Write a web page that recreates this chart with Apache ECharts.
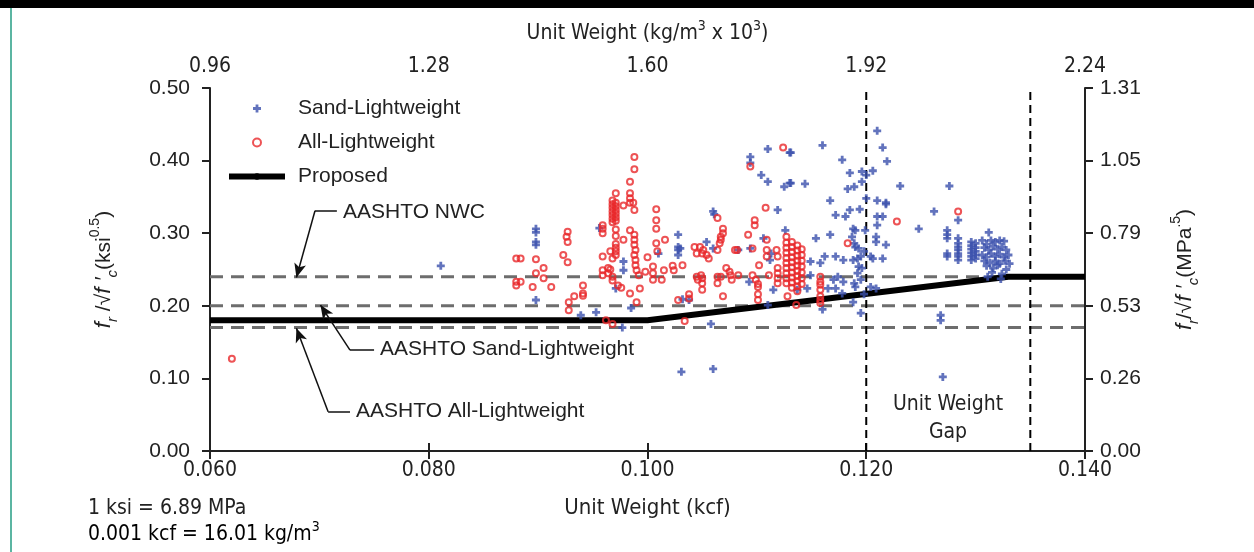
<!DOCTYPE html>
<html>
<head>
<meta charset="utf-8">
<title>Modulus of rupture vs unit weight</title>
<script src="https://cdn.jsdelivr.net/npm/echarts@6/dist/echarts.min.js"></script>
<style>
html, body { margin: 0; padding: 0; background: #fff; }
#main { width: 1254px; height: 552px; }
</style>
</head>
<body>
<div id="main"></div>
<script>
// 砂轻混凝土 (unit weight kcf, fr/sqrt(f'c) ksi^0.5)
const sandLightweight = [
  [0.0811, 0.255],
  [0.0898, 0.306], [0.0898, 0.301], [0.0898, 0.288], [0.0898, 0.284], [0.0898, 0.208],
  [0.0939, 0.187], [0.0953, 0.191], [0.0956, 0.307], [0.0971, 0.224],
  [0.0978, 0.261], [0.0978, 0.249], [0.0985, 0.197], [0.0977, 0.170],
  [0.1028, 0.298], [0.1028, 0.281], [0.1028, 0.277], [0.1028, 0.270], [0.1030, 0.279], [0.1010, 0.272],
  [0.1032, 0.209], [0.1038, 0.208],
  [0.1058, 0.175], [0.1060, 0.330], [0.1061, 0.326], [0.1054, 0.288], [0.1060, 0.279],
  [0.1094, 0.405], [0.1094, 0.397], [0.1110, 0.416], [0.1130, 0.411], [0.1104, 0.380], [0.1110, 0.371],
  [0.1125, 0.364], [0.1130, 0.369], [0.1119, 0.332], [0.1083, 0.277], [0.1094, 0.279], [0.1106, 0.293],
  [0.1113, 0.272], [0.1112, 0.263], [0.1126, 0.304], [0.1115, 0.222], [0.1110, 0.201], [0.1093, 0.233],
  [0.1031, 0.109], [0.1060, 0.113],
  [0.1210, 0.441], [0.1160, 0.421], [0.1215, 0.418], [0.1219, 0.399], [0.1178, 0.401], [0.1185, 0.383],
  [0.1196, 0.385], [0.1200, 0.380], [0.1206, 0.386], [0.1131, 0.411], [0.1131, 0.369], [0.1144, 0.368],
  [0.1183, 0.361], [0.1189, 0.364], [0.1196, 0.371], [0.1167, 0.345], [0.1200, 0.348], [0.1210, 0.345],
  [0.1218, 0.342], [0.1172, 0.325], [0.1181, 0.323], [0.1185, 0.332], [0.1194, 0.333], [0.1210, 0.323],
  [0.1215, 0.323], [0.1210, 0.311], [0.1188, 0.306], [0.1190, 0.304], [0.1199, 0.304], [0.1167, 0.298],
  [0.1154, 0.293], [0.1209, 0.295], [0.1209, 0.288], [0.1187, 0.295], [0.1189, 0.286], [0.1190, 0.281],
  [0.1193, 0.279], [0.1218, 0.284], [0.1195, 0.268], [0.1198, 0.275], [0.1162, 0.268], [0.1172, 0.268],
  [0.1179, 0.263], [0.1188, 0.263], [0.1192, 0.265], [0.1204, 0.268], [0.1206, 0.265], [0.1215, 0.265],
  [0.1149, 0.261], [0.1158, 0.259], [0.1193, 0.254], [0.1196, 0.252], [0.1192, 0.245], [0.1149, 0.242],
  [0.1170, 0.236], [0.1174, 0.240], [0.1179, 0.233], [0.1189, 0.231], [0.1195, 0.236], [0.1146, 0.224],
  [0.1137, 0.222], [0.1165, 0.224], [0.1172, 0.224], [0.1190, 0.226], [0.1204, 0.226], [0.1209, 0.224],
  [0.1178, 0.217], [0.1198, 0.216], [0.1160, 0.195], [0.1188, 0.205], [0.1195, 0.190],
  [0.1231, 0.365], [0.1276, 0.365], [0.1218, 0.340], [0.1262, 0.330], [0.1248, 0.306], [0.1284, 0.318],
  [0.1274, 0.304], [0.1274, 0.298], [0.1274, 0.293], [0.1274, 0.272], [0.1274, 0.268],
  [0.1284, 0.293], [0.1284, 0.286], [0.1284, 0.281], [0.1284, 0.277], [0.1284, 0.272], [0.1284, 0.268], [0.1284, 0.263],
  [0.1296, 0.288], [0.1296, 0.283], [0.1296, 0.278], [0.1296, 0.273], [0.1296, 0.268], [0.1296, 0.263],
  [0.1300, 0.286], [0.1300, 0.280], [0.1300, 0.275], [0.1300, 0.270], [0.1300, 0.265],
  [0.1312, 0.301], [0.1306, 0.290], [0.1310, 0.285], [0.1314, 0.290], [0.1318, 0.288], [0.1322, 0.290],
  [0.1326, 0.289], [0.1308, 0.280], [0.1312, 0.277], [0.1316, 0.282], [0.1320, 0.278], [0.1324, 0.281],
  [0.1328, 0.277], [0.1306, 0.270], [0.1310, 0.267], [0.1314, 0.272], [0.1318, 0.268], [0.1322, 0.271],
  [0.1326, 0.267], [0.1330, 0.270], [0.1308, 0.262], [0.1313, 0.259], [0.1318, 0.262], [0.1322, 0.258],
  [0.1327, 0.262], [0.1331, 0.258], [0.1310, 0.255], [0.1316, 0.252], [0.1320, 0.256], [0.1328, 0.250],
  [0.1315, 0.246], [0.1311, 0.240], [0.1324, 0.244], [0.1323, 0.237],
  [0.1268, 0.187], [0.1268, 0.180], [0.1270, 0.102]
]

// 全轻混凝土
const allLightweight = [
  [0.0620, 0.127],
  [0.0880, 0.265], [0.0884, 0.265], [0.0880, 0.233], [0.0884, 0.233], [0.0880, 0.228],
  [0.0898, 0.264], [0.0905, 0.252], [0.0898, 0.245], [0.0905, 0.238], [0.0895, 0.226], [0.0912, 0.226],
  [0.0927, 0.302], [0.0926, 0.295], [0.0927, 0.288], [0.0923, 0.270], [0.0927, 0.260],
  [0.0941, 0.228], [0.0941, 0.217], [0.0941, 0.214], [0.0933, 0.213], [0.0928, 0.205], [0.0928, 0.194],
  [0.0959, 0.311], [0.0959, 0.306], [0.0959, 0.300], [0.0959, 0.268], [0.0959, 0.249], [0.0959, 0.242],
  [0.0964, 0.252], [0.0964, 0.245], [0.0966, 0.275], [0.0962, 0.180], [0.0968, 0.175],
  [0.0968, 0.345], [0.0968, 0.340], [0.0968, 0.335], [0.0968, 0.330], [0.0968, 0.325], [0.0968, 0.320],
  [0.0968, 0.315], [0.0971, 0.355], [0.0971, 0.342], [0.0971, 0.337], [0.0971, 0.332], [0.0971, 0.327],
  [0.0971, 0.322], [0.0971, 0.317], [0.0971, 0.305], [0.0971, 0.296], [0.0971, 0.285], [0.0971, 0.280],
  [0.0971, 0.275], [0.0971, 0.270], [0.0968, 0.265], [0.0966, 0.250], [0.0968, 0.240], [0.0968, 0.235],
  [0.0973, 0.228], [0.0976, 0.225],
  [0.0978, 0.291], [0.0978, 0.338],
  [0.0984, 0.371], [0.0984, 0.355], [0.0984, 0.348], [0.0984, 0.342], [0.0987, 0.342], [0.0988, 0.332], [0.0984, 0.304],
  [0.0988, 0.298], [0.0988, 0.291], [0.0988, 0.284], [0.0989, 0.277], [0.0988, 0.270], [0.0989, 0.263],
  [0.0989, 0.256], [0.0990, 0.249], [0.0992, 0.242],
  [0.0988, 0.405], [0.0988, 0.388],
  [0.0984, 0.217], [0.0990, 0.205], [0.0993, 0.224], [0.0998, 0.247], [0.1000, 0.267], [0.1005, 0.254],
  [0.1005, 0.245], [0.1005, 0.236],
  [0.1008, 0.333], [0.1008, 0.318], [0.1008, 0.306], [0.1008, 0.286], [0.1009, 0.275], [0.1016, 0.291],
  [0.1015, 0.249], [0.1013, 0.236],
  [0.1023, 0.255], [0.1024, 0.249], [0.1032, 0.256], [0.1028, 0.208], [0.1038, 0.216], [0.1038, 0.210], [0.1034, 0.179],
  [0.1043, 0.281], [0.1045, 0.272], [0.1045, 0.240], [0.1046, 0.236],
  [0.1048, 0.281], [0.1050, 0.272], [0.1051, 0.277], [0.1054, 0.270], [0.1056, 0.265], [0.1049, 0.242],
  [0.1050, 0.238], [0.1050, 0.231], [0.1050, 0.222],
  [0.1064, 0.321], [0.1069, 0.306], [0.1069, 0.300], [0.1067, 0.295], [0.1067, 0.291], [0.1066, 0.286],
  [0.1064, 0.277], [0.1072, 0.252], [0.1075, 0.247], [0.1064, 0.240], [0.1064, 0.231], [0.1067, 0.240],
  [0.1076, 0.242], [0.1077, 0.236], [0.1069, 0.213], [0.1080, 0.277], [0.1082, 0.277], [0.1083, 0.242],
  [0.1094, 0.392], [0.1092, 0.298], [0.1098, 0.318], [0.1098, 0.311], [0.1096, 0.279], [0.1096, 0.242],
  [0.1099, 0.236], [0.1101, 0.230], [0.1101, 0.226], [0.1101, 0.216], [0.1101, 0.208], [0.1102, 0.256],
  [0.1108, 0.335], [0.1109, 0.291], [0.1109, 0.277], [0.1109, 0.268], [0.1111, 0.242],
  [0.1124, 0.418], [0.1118, 0.277], [0.1119, 0.268], [0.1119, 0.252], [0.1119, 0.245], [0.1119, 0.238], [0.1119, 0.231],
  [0.1127, 0.295], [0.1127, 0.287], [0.1127, 0.280], [0.1127, 0.273], [0.1127, 0.266], [0.1127, 0.259],
  [0.1127, 0.252], [0.1127, 0.245], [0.1127, 0.238], [0.1127, 0.231], [0.1128, 0.213],
  [0.1132, 0.288], [0.1132, 0.281], [0.1132, 0.274], [0.1132, 0.267], [0.1132, 0.260], [0.1132, 0.253],
  [0.1132, 0.246], [0.1132, 0.239], [0.1132, 0.232], [0.1132, 0.225],
  [0.1137, 0.283], [0.1137, 0.276], [0.1137, 0.269], [0.1137, 0.262], [0.1137, 0.255], [0.1137, 0.248],
  [0.1137, 0.241], [0.1137, 0.234], [0.1137, 0.227], [0.1137, 0.220],
  [0.1141, 0.278], [0.1141, 0.270], [0.1141, 0.262], [0.1141, 0.254], [0.1141, 0.246], [0.1141, 0.238], [0.1141, 0.230],
  [0.1136, 0.201],
  [0.1158, 0.240], [0.1158, 0.233], [0.1158, 0.229], [0.1158, 0.222], [0.1158, 0.213], [0.1158, 0.208], [0.1158, 0.204],
  [0.1183, 0.286], [0.1228, 0.316], [0.1284, 0.330]
]

// 建议公式折线
const proposedX = [0.060, 0.100, 0.133, 0.140]
const proposedY = [0.18, 0.18, 0.24, 0.24]
// AASHTO 系数 (NWC, 砂轻, 全轻)
const aashtoLevels = [0.24, 0.20, 0.17]
// 容重缺口边界
const gapBounds = [0.120, 0.135]

const rightTickLabels = ['0.00', '0.26', '0.53', '0.79', '1.05', '1.31']

// 标注箭头: 水平段 + 斜段 (数据坐标)
const arrowNotes = [
  { elbow: [[0.0716, 0.331], [0.0696, 0.331]], tip: [0.0679, 0.239] },
  { elbow: [[0.0750, 0.139], [0.0728, 0.139]], tip: [0.0701, 0.201] },
  { elbow: [[0.0728, 0.054], [0.0708, 0.054]], tip: [0.0679, 0.169] }
]

const plusPath = 'path://M2.6,0H5.4V2.6H8V5.4H5.4V8H2.6V5.4H0V2.6H2.6Z'
const regular = 'Liberation Sans, Arial, sans-serif'
const narrow = 'Liberation Sans Narrow, Arial Narrow, DejaVu Sans Condensed, sans-serif'

const myChart = echarts.init(document.getElementById('main'))

const arrowLines = []
arrowNotes.forEach(function (a) {
  arrowLines.push([{ coord: a.elbow[0], symbol: 'none' }, { coord: a.elbow[1], symbol: 'none' }])
  arrowLines.push([{ coord: a.elbow[1], symbol: 'none' }, { coord: a.tip, symbol: 'arrow', symbolSize: [9, 14] }])
})

const refLines = aashtoLevels.map(function (v, i) {
  return {
    name: 'aashto' + i,
    type: 'line',
    data: [[0.06, v], [0.14, v]],
    symbol: 'none',
    silent: true,
    z: 1,
    lineStyle: { color: '#6d6d6d', width: 3, type: [13, 8] }
  }
})
const gapLines = gapBounds.map(function (v, i) {
  return {
    name: 'gap' + i,
    type: 'line',
    data: [[v, 0], [v, 0.5]],
    symbol: 'none',
    silent: true,
    z: 1,
    lineStyle: { color: '#000', width: 2, type: [8, 5] }
  }
})

const ySubStyles = {
  i: { fontStyle: 'italic', fontSize: 22, lineHeight: 32, fontFamily: regular, color: '#222' },
  sub: { fontStyle: 'italic', fontSize: 15, lineHeight: 14, verticalAlign: 'bottom', fontFamily: regular, color: '#222' },
  sup: { fontSize: 14, lineHeight: 14, verticalAlign: 'top', fontFamily: regular, color: '#222' },
  n: { fontSize: 21, lineHeight: 32, fontFamily: regular, color: '#222' }
}
const supStyles = {
  n: { fontSize: 21, lineHeight: 30, fontFamily: narrow, color: '#222' },
  sup: { fontSize: 14, lineHeight: 14, verticalAlign: 'top', fontFamily: narrow, color: '#222' }
}

myChart.setOption({
  animation: false,
  backgroundColor: '#fff',
  grid: { left: 210, right: 169, top: 88, bottom: 101 },
  legend: {
    orient: 'vertical',
    left: 221,
    top: 93,
    itemWidth: 56,
    itemHeight: 8,
    itemGap: 13,
    selectedMode: false,
    data: ['Sand-Lightweight', 'All-Lightweight', 'Proposed'],
    lineStyle: { width: 6 },
    itemStyle: { borderWidth: 'inherit' },
    textStyle: { fontSize: 21, fontFamily: regular, color: '#222', padding: [0, 0, 0, 8] }
  },
  xAxis: [
    {
      type: 'value',
      position: 'bottom',
      min: 0.06,
      max: 0.14,
      interval: 0.02,
      name: 'Unit Weight (kcf)',
      nameLocation: 'middle',
      nameGap: 46,
      nameTextStyle: { fontSize: 22, fontFamily: narrow, color: '#222' },
      axisLine: { lineStyle: { color: '#222', width: 2 } },
      axisTick: { inside: false, length: 8, lineStyle: { color: '#222', width: 2 } },
      axisLabel: { fontSize: 21, fontFamily: narrow, color: '#222', margin: 9,
        formatter: function (v) { return v.toFixed(3) } },
      splitLine: { show: false }
    },
    {
      type: 'value',
      position: 'top',
      min: 0.96,
      max: 2.24,
      interval: 0.32,
      name: '{n|Unit Weight (kg/m}{sup|3}{n| x 10}{sup|3}{n|)}',
      nameLocation: 'middle',
      nameGap: 39,
      nameTextStyle: { rich: supStyles },
      axisLine: { lineStyle: { color: '#222', width: 2 } },
      axisTick: { inside: false, length: 8, lineStyle: { color: '#222', width: 2 } },
      axisLabel: { fontSize: 21, fontFamily: narrow, color: '#222', margin: 11,
        formatter: function (v) { return v.toFixed(2) } },
      splitLine: { show: false }
    }
  ],
  yAxis: [
    {
      type: 'value',
      position: 'left',
      min: 0,
      max: 0.5,
      interval: 0.1,
      name: '{i|f}{sub|r}{n| /√}{i|f ′}{sub|c}{n|(ksi}{sup|0.5}{n|)}',
      nameLocation: 'middle',
      nameRotate: 90,
      nameGap: 90,
      nameTextStyle: { rich: ySubStyles },
      axisLine: { show: true, lineStyle: { color: '#222', width: 2 } },
      axisTick: { show: true, inside: false, length: 8, lineStyle: { color: '#222', width: 2 } },
      axisLabel: { fontSize: 21, fontFamily: regular, color: '#222', margin: 20,
        formatter: function (v) { return v.toFixed(2) } },
      splitLine: { show: false }
    },
    {
      type: 'value',
      position: 'right',
      min: 0,
      max: 0.5,
      interval: 0.1,
      name: '{i|f}{sub|r}{n|/√}{i|f ′}{sub|c}{n|(MPa}{sup|.5}{n|)}',
      nameLocation: 'middle',
      nameRotate: 90,
      nameGap: 84,
      nameTextStyle: { rich: ySubStyles },
      axisLine: { show: true, lineStyle: { color: '#222', width: 2 } },
      axisTick: { show: true, inside: false, length: 8, lineStyle: { color: '#222', width: 2 } },
      axisLabel: { fontSize: 21, fontFamily: regular, color: '#222', margin: 15,
        formatter: function (v) { return rightTickLabels[Math.round(v * 10)] } },
      splitLine: { show: false }
    }
  ],
  series: refLines.concat(gapLines).concat([
    {
      name: 'Proposed',
      type: 'line',
      data: proposedX.map(function (x, i) { return [x, proposedY[i]] }),
      symbol: 'none',
      z: 2,
      itemStyle: { color: '#000' },
      lineStyle: { color: '#000', width: 6 },
      markLine: {
        silent: true,
        animation: false,
        symbol: ['none', 'none'],
        label: { show: false },
        lineStyle: { color: '#111', width: 1.5, type: 'solid' },
        data: arrowLines
      }
    },
    {
      name: 'Sand-Lightweight',
      type: 'scatter',
      data: sandLightweight,
      symbol: plusPath,
      symbolSize: 8,
      symbolKeepAspect: true,
      z: 3,
      itemStyle: { color: '#3b50ad' }
    },
    {
      name: 'All-Lightweight',
      type: 'scatter',
      data: allLightweight,
      symbol: 'circle',
      symbolSize: 6,
      z: 4,
      itemStyle: { color: 'rgba(255,255,255,0)', borderColor: '#e8282b', borderWidth: 2 }
    }
  ]),
  graphic: [
    { type: 'rect', shape: { x: 0, y: 0, width: 1254, height: 8 }, style: { fill: '#000' }, silent: true },
    { type: 'rect', shape: { x: 10, y: 8, width: 2, height: 544 }, style: { fill: '#5bb5a2' }, silent: true },
    { type: 'text', x: 343, y: 212, style: { text: 'AASHTO NWC', font: '21px ' + regular, fill: '#222', textVerticalAlign: 'middle', verticalAlign: 'middle' } },
    { type: 'text', x: 380, y: 349, style: { text: 'AASHTO Sand-Lightweight', font: '21px ' + regular, fill: '#222', textVerticalAlign: 'middle', verticalAlign: 'middle' } },
    { type: 'text', x: 356, y: 411, style: { text: 'AASHTO All-Lightweight', font: '21px ' + regular, fill: '#222', textVerticalAlign: 'middle', verticalAlign: 'middle' } },
    { type: 'text', x: 948, y: 419, style: { text: 'Unit Weight\nGap', font: '21px ' + narrow, lineHeight: 28, fill: '#222', textAlign: 'center', align: 'center', textVerticalAlign: 'middle', verticalAlign: 'middle', backgroundColor: '#fff' } },
    { type: 'text', x: 88, y: 509, style: { text: '1 ksi = 6.89 MPa', font: '21px ' + narrow, fill: '#222', textVerticalAlign: 'middle', verticalAlign: 'middle' } },
    { type: 'text', x: 88, y: 535, style: { text: '{n|0.001 kcf = 16.01 kg/m}{sup|3}', rich: supStyles, textVerticalAlign: 'middle', verticalAlign: 'middle' } }
  ]
})
window.addEventListener('resize', function () {
  myChart.resize()
})
</script>
</body>
</html>
